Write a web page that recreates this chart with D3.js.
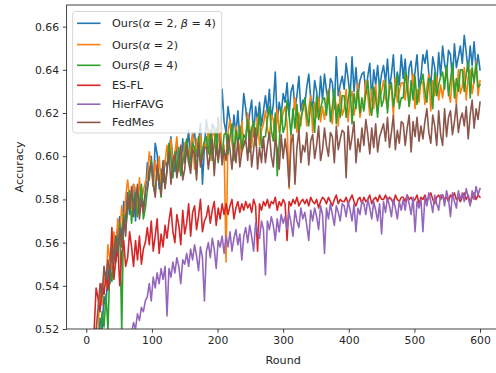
<!DOCTYPE html>
<html><head><meta charset="utf-8">
<script src="https://cdn.jsdelivr.net/npm/d3@7"></script>
<style>body{margin:0;background:#fff}svg{display:block}text{font-family:"DejaVu Sans",sans-serif;fill:#262626}</style>
</head><body><svg id="c" width="496" height="373"></svg>
<script>
// rounds sampled every 3
const rounds = d3.range(3, 601, 3);
const xTicks = [0,100,200,300,400,500,600];
const yTicks = [0.52,0.54,0.56,0.58,0.60,0.62,0.64,0.66];
const seriesNames = ["Ours(α=2,β=4)","Ours(α=2)","Ours(β=4)","ES-FL","HierFAVG","FedMes"];
const seriesColors = ["#1f77b4","#ff7f0e","#2ca02c","#d62728","#9467bd","#8c564b"];

const oursAB = [
.44,.45,.47,.49,.50,.51,.525,.52,.535,.53,
.548,.541,.556,.563,.551,.566,.572,.560,.579,.569,
.583,.573,.581,.587,.570,.584,.577,.586,.575,.582,
.597,.589,.600,.586,.606,.601,.585,.594,.588,.598,
.595,.603,.609,.598,.593,.606,.601,.592,.608,.597,
.603,.612,.597,.608,.611,.600,.606,.615,.587,.604,
.617,.609,.604,.615,.613,.601,.618,.607,.631,.616,
.611,.623,.616,.607,.619,.610,.621,.608,.615,.629,
.622,.612,.620,.626,.609,.623,.616,.625,.614,.621,
.628,.620,.631,.617,.624,.639,.616,.625,.619,.629,
.625,.634,.619,.630,.633,.622,.628,.637,.621,.626,
.624,.632,.638,.627,.622,.635,.630,.621,.637,.626,
.638,.630,.625,.636,.634,.622,.646,.628,.633,.637,
.631,.643,.636,.627,.646,.630,.641,.628,.635,.638,
.639,.629,.637,.643,.626,.640,.633,.642,.631,.638,
.642,.634,.645,.631,.638,.647,.630,.639,.633,.647,
.636,.645,.630,.641,.644,.633,.639,.647,.632,.637,
.647,.643,.649,.638,.633,.646,.641,.632,.648,.637,
.651,.643,.638,.649,.647,.635,.652,.641,.646,.651,
.643,.656,.648,.639,.651,.642,.653,.640,.647,.640];

const oursA = [
.45,.46,.48,.50,.51,.52,.538,.531,.547,.540,
.559,.552,.548,.565,.558,.571,.563,.577,.568,.581,
.589,.581,.576,.587,.585,.573,.590,.579,.584,.588,
.590,.602,.595,.586,.598,.589,.600,.587,.594,.597,
.605,.597,.608,.594,.601,.609,.593,.602,.596,.606,
.607,.597,.605,.611,.594,.608,.601,.610,.599,.606,
.604,.613,.598,.609,.612,.601,.607,.616,.600,.605,
.551,.611,.617,.606,.601,.614,.609,.600,.616,.605,
.608,.620,.613,.604,.616,.607,.618,.605,.612,.615,
.621,.613,.608,.619,.617,.605,.622,.611,.616,.620,
.623,.615,.585,.612,.619,.627,.611,.620,.614,.624,
.624,.614,.622,.628,.611,.625,.618,.627,.616,.623,
.617,.625,.631,.620,.615,.628,.623,.614,.630,.619,
.622,.631,.616,.627,.630,.619,.625,.634,.618,.623,
.623,.635,.628,.619,.631,.622,.633,.620,.627,.630,
.635,.627,.622,.633,.631,.619,.636,.625,.630,.634,
.634,.626,.637,.623,.630,.638,.622,.631,.625,.635,
.634,.624,.632,.638,.621,.635,.628,.637,.626,.633,
.627,.635,.641,.630,.625,.638,.633,.624,.640,.629,
.632,.641,.626,.637,.640,.629,.635,.644,.628,.635];

const oursB = [
.43,.44,.46,.48,.49,.50,.51,.528,.521,.536,
.520,.549,.542,.556,.563,.554,.569,.519,.573,.566,
.575,.584,.569,.580,.583,.572,.578,.587,.571,.576,
.584,.592,.598,.587,.582,.595,.590,.581,.597,.586,
.594,.606,.599,.590,.602,.593,.604,.591,.598,.601,
.608,.600,.595,.606,.604,.592,.609,.598,.603,.607,
.609,.601,.612,.598,.605,.613,.597,.606,.600,.610,
.611,.601,.609,.615,.598,.612,.605,.614,.603,.610,
.608,.617,.602,.613,.616,.605,.611,.620,.604,.609,
.609,.617,.623,.612,.607,.620,.591,.606,.622,.611,
.614,.626,.619,.610,.622,.613,.624,.611,.618,.621,
.627,.619,.614,.625,.623,.611,.628,.617,.622,.626,
.627,.619,.630,.616,.623,.631,.615,.624,.618,.628,
.628,.618,.626,.632,.615,.629,.622,.631,.620,.627,
.621,.629,.635,.624,.619,.632,.627,.618,.634,.623,
.626,.635,.620,.631,.634,.623,.629,.638,.622,.627,
.627,.639,.632,.623,.635,.626,.637,.624,.631,.634,
.638,.630,.625,.636,.634,.622,.639,.628,.633,.637,
.639,.631,.642,.628,.635,.643,.627,.636,.630,.640,
.640,.630,.638,.644,.627,.641,.634,.643,.632,.633];

const esfl = [
.49,.50,.51,.52,.539,.534,.528,.541,.536,.545,
.538,.547,.567,.543,.552,.558,.540,.555,.561,.549,
.553,.565,.558,.549,.561,.552,.563,.550,.557,.560,
.567,.559,.570,.556,.563,.571,.555,.564,.558,.568,
.562,.570,.576,.565,.560,.573,.568,.559,.575,.564,
.569,.578,.563,.574,.577,.566,.572,.580,.565,.570,
.572,.577,.569,.575,.579,.568,.576,.571,.578,.573,
.578,.573,.577,.580,.571,.576,.579,.574,.578,.575,
.579,.576,.578,.574,.580,.577,.556,.578,.575,.579,
.577,.580,.576,.579,.578,.581,.575,.579,.577,.580,
.578,.561,.579,.577,.580,.578,.581,.577,.579,.580,
.578,.580,.577,.581,.579,.578,.580,.576,.579,.581,
.580,.578,.581,.579,.577,.580,.582,.578,.580,.579,
.579,.581,.578,.580,.582,.579,.577,.580,.581,.578,
.581,.579,.580,.582,.578,.580,.581,.579,.582,.580,
.580,.582,.579,.581,.580,.578,.582,.580,.579,.581,
.581,.579,.582,.580,.581,.579,.580,.582,.578,.581,
.580,.582,.579,.581,.583,.580,.578,.581,.582,.580,
.582,.580,.581,.579,.582,.581,.583,.580,.581,.579,
.581,.583,.580,.582,.578,.581,.583,.580,.582,.581];

const hierfavg = [
.44,.45,.45,.46,.46,.47,.47,.47,.48,.48,
.48,.49,.49,.49,.50,.50,.50,.51,.51,.51,
.512,.515,.518,.523,.520,.527,.524,.530,.528,.533,
.535,.541,.533,.544,.539,.546,.541,.548,.543,.549,
.526,.548,.544,.551,.546,.553,.549,.541,.552,.550,
.555,.549,.557,.552,.559,.554,.547,.558,.553,.533,
.556,.560,.553,.562,.557,.548,.561,.558,.563,.555,
.563,.558,.565,.556,.562,.566,.559,.564,.552,.563,
.567,.560,.568,.563,.556,.569,.565,.562,.570,.566,
.545,.570,.566,.572,.568,.561,.571,.565,.573,.569,
.572,.566,.574,.569,.563,.575,.570,.567,.576,.571,
.574,.568,.561,.575,.570,.576,.572,.566,.577,.573,
.555,.576,.571,.578,.573,.568,.577,.574,.570,.578,
.577,.572,.579,.575,.570,.578,.565,.576,.573,.579,
.578,.573,.580,.576,.571,.579,.575,.570,.578,.564,
.579,.574,.581,.577,.572,.580,.576,.571,.579,.575,
.580,.575,.582,.578,.573,.581,.565,.579,.576,.580,
.565,.581,.577,.583,.579,.574,.582,.578,.575,.582,
.582,.577,.584,.580,.572,.583,.579,.576,.584,.580,
.583,.579,.585,.581,.577,.584,.580,.586,.582,.585];

const fedmes = [
.46,.47,.49,.50,.52,.53,.541,.535,.549,.543,
.552,.545,.558,.550,.563,.555,.567,.558,.571,.563,
.583,.575,.586,.572,.579,.587,.571,.580,.574,.584,
.585,.593,.597,.588,.581,.596,.589,.582,.598,.585,
.593,.602,.587,.598,.601,.590,.596,.605,.589,.594,
.605,.597,.592,.603,.601,.589,.606,.595,.600,.604,
.604,.594,.602,.608,.591,.605,.598,.607,.596,.603,
.598,.610,.603,.594,.606,.597,.608,.595,.602,.605,
.608,.598,.612,.595,.603,.613,.594,.604,.597,.609,
.597,.605,.611,.600,.595,.608,.603,.594,.610,.599,
.608,.601,.586,.606,.610,.587,.604,.612,.597,.605,
.602,.611,.596,.607,.610,.599,.605,.614,.598,.603,
.613,.605,.600,.611,.609,.597,.614,.603,.608,.612,
.611,.590,.614,.603,.609,.616,.597,.608,.602,.613,
.605,.617,.610,.601,.613,.604,.615,.602,.609,.612,
.615,.607,.618,.604,.611,.619,.603,.612,.606,.616,
.615,.605,.613,.619,.602,.616,.609,.618,.607,.614,
.608,.616,.622,.611,.606,.619,.614,.605,.621,.610,
.605,.622,.609,.618,.621,.610,.616,.624,.611,.617,
.620,.614,.623,.608,.619,.626,.613,.622,.617,.625];

const allSeries = [oursAB, oursA, oursB, esfl, hierfavg, fedmes];

const svg = d3.select("#c");
const L = 66.6, R = 499.7, T = 5, B = 329;
const x = d3.scaleLinear().domain([-30, 630]).range([L, R]);
const y = d3.scaleLinear().domain([0.52, 0.67]).range([B, T]);

svg.append("defs").append("clipPath").attr("id","clip")
  .append("rect").attr("x",L).attr("y",T).attr("width",R-L).attr("height",B-T);

const line = d3.line().x((d,i)=>x(rounds[i])).y(d=>y(d));
const g = svg.append("g").attr("clip-path","url(#clip)");
allSeries.forEach((s,k)=>{
  g.append("path").datum(s).attr("d",line).attr("fill","none")
   .attr("stroke",seriesColors[k]).attr("stroke-width",1.6)
   .attr("stroke-linejoin","round").attr("stroke-linecap","square");
});

// axes
const xAxis = d3.axisBottom(x).tickValues(xTicks).tickSize(3.8).tickPadding(3.8).tickFormat(d3.format("d"));
const yAxis = d3.axisLeft(y).tickValues(yTicks).tickSize(3.8).tickPadding(3.8).tickFormat(d3.format(".2f"));
const gx = svg.append("g").attr("transform",`translate(0,${B})`).call(xAxis);
const gy = svg.append("g").attr("transform",`translate(${L},0)`).call(yAxis);
[gx,gy].forEach(a=>{
  a.select(".domain").remove();
  a.selectAll("line").attr("stroke","#262626").attr("stroke-width",0.86);
  a.selectAll("text").attr("font-size","10.8px").style("font-family","DejaVu Sans").attr("fill","#262626");
});
// spines
svg.append("rect").attr("x",L).attr("y",T).attr("width",R-L).attr("height",B-T)
  .attr("fill","none").attr("stroke","#262626").attr("stroke-width",0.86);

svg.append("text").attr("x",(L+R)/2).attr("y",364).attr("text-anchor","middle")
  .attr("font-size","11.2px").text("Round");
svg.append("text").attr("transform",`translate(22.5,${(T+B)/2}) rotate(-90)`).attr("text-anchor","middle")
  .attr("font-size","11.2px").text("Accuracy");

// legend
const lg = svg.append("g");
lg.append("rect").attr("x",72.7).attr("y",11.5).attr("width",149).attr("height",121.5).attr("rx",2.5)
  .attr("fill","white").attr("fill-opacity",0.8).attr("stroke","#cccccc").attr("stroke-width",0.8);
const rowY = [23.3, 44.6, 65.3, 85.3, 104.2, 122.4];
const labelParts = [
  [["Ours(",0],["α",1],[" = 2, ",0],["β",1],[" = 4)",0]],
  [["Ours(",0],["α",1],[" = 2)",0]],
  [["Ours(",0],["β",1],[" = 4)",0]],
  [["ES-FL",0]],[["HierFAVG",0]],[["FedMes",0]]
];
seriesNames.forEach((n,k)=>{
  lg.append("line").attr("x1",77).attr("x2",100.5).attr("y1",rowY[k]).attr("y2",rowY[k])
    .attr("stroke",seriesColors[k]).attr("stroke-width",1.6);
  const t = lg.append("text").attr("x",112).attr("y",rowY[k]+4).attr("font-size","11.2px");
  labelParts[k].forEach(p=>{
    t.append("tspan").attr("font-style",p[1]?"italic":"normal").style("white-space","pre").text(p[0]);
  });
});
</script></body></html>
